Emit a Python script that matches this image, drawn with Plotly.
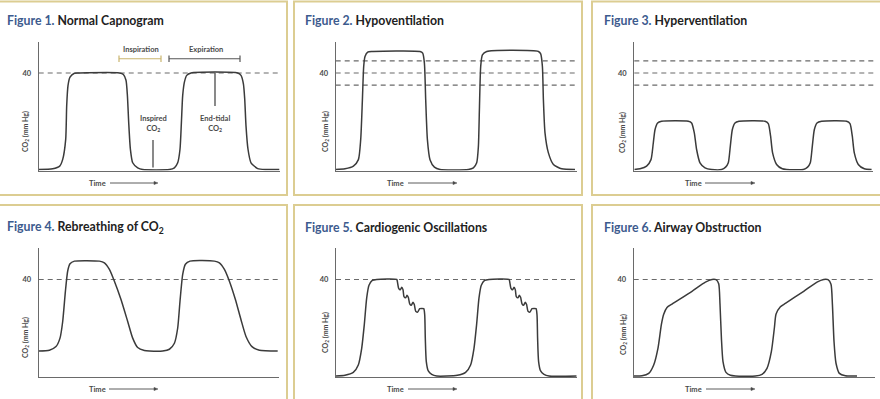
import plotly.graph_objects as go

# ---------------- DATA ----------------
# Time in arbitrary units along each panel's time axis, CO2 in mm Hg
t1 = [0, 14, 21, 24, 27, 28, 29.3, 31.3, 35.7, 40.7, 80.7, 84.7, 87.3, 88.7, 90, 91.7, 94, 99, 104,
      130.7, 135.7, 139, 141.3, 142.7, 144, 145.7, 148, 152.3, 199, 202.3, 204.7, 206, 207.3, 209.3,
      212.3, 219, 227.3, 240.7]
c1 = [0, 0.3, 1.4, 4.2, 12.5, 26.5, 34.8, 38.3, 39.9, 40, 40, 39.4, 37, 30.7, 19.5, 8.4, 2.8, 0.7, 0,
      0, 0.7, 2.8, 8.4, 19.5, 30.7, 36.2, 39, 40, 40, 39, 35.5, 29.3, 18.1, 8.4,
      2.8, 0.4, 0, 0]

t2 = [0, 9.3, 17.7, 22.7, 25, 26.7, 28, 29.3, 32, 36, 84.3, 87, 88.7, 90, 91.7, 94.3, 98.7, 104.3,
      132.7, 137.7, 141, 142.7, 143.7, 145, 146.7, 151, 202.7, 205, 206.7, 207.7, 209.3, 212.7, 217.7,
      226, 239.3]
c2 = [0, 0.3, 1.4, 4.1, 12.4, 28.9, 42.7, 46.8, 48.6, 48.9, 48.9, 48.2, 44.1, 28.9, 12.4, 4.1, 1, 0,
      0, 0.7, 2.8, 9.6, 24.8, 42.7, 47.5, 48.9, 48.9, 47.9, 42.7, 28.9, 15.2, 6.9, 2.1,
      0.3, 0]

t3 = [0, 5.7, 12.3, 16.7, 19, 20.7, 23.3, 27.3, 54, 57.3, 60, 62.3, 65.7, 70.7, 77.3,
      87.3, 91.3, 94, 96, 98, 100.7, 104.7, 130.7, 134, 136.3, 138.3, 142.3, 148, 152.3,
      169, 173.3, 176, 178, 180, 182.7, 187.3, 212.3, 215.7, 218, 220, 224, 230, 237.3]
c3 = [0, 0.3, 1.4, 4.1, 11, 16.5, 19.3, 20, 20, 19.3, 15.2, 8.3, 2.8, 0.7, 0,
      0, 1, 2.8, 9.6, 16.5, 19.3, 20, 20, 19, 13.8, 6.9, 2.1, 0.3, 0,
      0, 1, 2.8, 9.6, 16.5, 19.3, 20, 20, 19, 13.8, 6.9, 2.1, 0.3, 0]

t4 = [0, 10.7, 17.3, 21.3, 24, 26.7, 29, 31.3, 35.7, 60.7, 65.7, 70.7, 75.7, 82.3, 89, 94, 99, 105.7,
      110.7, 124, 130.7, 135.7, 139, 141.3, 144, 146.7, 151.3, 175.7, 180.7, 185.7, 190.7, 196.7,
      202.3, 207.3, 213.3, 220.7, 239]
c4 = [10.4, 10.7, 12.2, 15.7, 22.6, 35.1, 43.5, 46.5, 47.6, 47.6, 46.9, 44.2, 39.3, 31.7, 22.6, 15.7,
      11.8, 10.6, 10.4, 10.4, 11.1, 13.6, 19.9, 31, 42.1, 46.3, 47.6, 47.6, 46.9, 44.2, 39.3, 31.7,
      23.3, 16.4, 12.2, 10.7, 10.4]

t5 = [0, 9, 17.3, 22.3, 25.7, 28.3, 30.7, 33, 36.3, 40.7, 60.7, 61.3, 62.7, 64.3, 65.7, 67, 68, 69.7,
      71, 72.3, 73.7, 75.3, 77, 78.3, 79.7, 81.7, 83.7, 87.7, 88.7, 89.3, 90.3, 92.3, 95.7, 100.7,
      121.3, 129.6, 134.6, 138, 140.6, 143, 145.3, 148.6, 153, 173, 173.6, 175, 176.6, 178, 179.3,
      180.3, 182, 183.3, 184.6, 186, 187.6, 189.3, 190.6, 192, 194, 196, 200, 201, 201.6, 202.6,
      204.6, 208, 213, 240.7]
c5 = [0, 0.3, 1.5, 4.6, 11.5, 21.3, 32.4, 37.6, 39.6, 40, 40, 39.3, 36.3, 35.7, 36.8, 35.8, 32.9, 32.4,
      33.5, 32.6, 29.9, 29.3, 30.6, 29.6, 26.8, 26.5, 27.9, 27.9, 25.4, 15.7, 6, 2.1, 0.7, 0,
      0.3, 1.5, 4.6, 11.5, 21.3, 32.4, 37.6, 39.6, 40, 40, 39.3, 36.3, 35.7, 36.8, 35.8,
      32.9, 32.4, 33.5, 32.6, 29.9, 29.3, 30.6, 29.6, 26.8, 26.5, 27.9, 27.9, 25.4, 15.7, 6,
      2.1, 0.7, 0, 0]

t6 = [0, 8.3, 15, 20, 24.3, 27.7, 30, 33.3, 38.3, 58.3, 71.7, 78.3, 82.3, 85, 86.3, 87.7, 89.3, 92.3,
      96.7, 101.7, 121.7, 128.3, 133.3, 137.7, 140.7, 142.3, 146.7, 151.7, 170, 183.3, 190, 194.3,
      197.3, 198.7, 200.3, 202.3, 205.7, 211.7, 223.3]
c6 = [0, 0.1, 1.1, 4.6, 11.6, 21.4, 25.6, 28.4, 29.8, 35.1, 38.9, 40, 39.9, 38.2, 29.8, 15.8, 6, 1.5,
      0.3, 0, 0, 0.7, 3.2, 10.2, 20, 25.6, 28.7, 30.1, 35.1, 38.9, 40, 39.9,
      38, 29.8, 14.4, 5.3, 1.1, 0.1, 0]

titles_num = ["Figure 1.", "Figure 2.", "Figure 3.", "Figure 4.", "Figure 5.", "Figure 6."]
titles_txt = ["Normal Capnogram", "Hypoventilation", "Hyperventilation",
              "Rebreathing of CO<sub>2</sub>", "Cardiogenic Oscillations", "Airway Obstruction"]
reference_lines = [[40], [35, 40, 45], [35, 40, 45], [40], [40], [40]]
tick_vals = [40]
tick_text = ["40"]
y_title = "CO<sub>2</sub> (mm Hg)"
x_title = "Time"
y_range = [-0.4, 53]

series = [(t1, c1), (t2, c2), (t3, c3), (t4, c4), (t5, c5), (t6, c6)]

# ---------------- LAYOUT (pixel geometry) ----------------
W, H = 880, 399
def fx(px): return px / W
def fy(py): return 1 - py / H

# plot areas: (left, right, top, bottom) in px
areas = [
    (38.7, 279.7, 41.6, 170.5),
    (335.7, 576.7, 41.6, 170.5),
    (634.3, 873.3, 41.6, 170.5),
    (38.7, 279.4, 248.1, 377.0),
    (336.0, 576.7, 248.1, 377.0),
    (633.7, 875.0, 248.1, 377.0),
]
boxes = [(-3, 287, 1.5, 195), (294, 582, 1.5, 195), (592, 884, 1.5, 195),
         (-3, 287, 205, 403), (294, 582, 205, 403), (592, 884, 205, 403)]
title_pos = [(5, 20), (303, 20), (602, 20), (5, 227), (303, 227), (602, 227)]
ytitle_pos = [(25, 132), (325, 132), (623, 133), (25, 338), (325, 333), (623, 335)]
time_pos = [(87, 110, 158, 183), (385, 408, 457, 183), (683, 705, 755, 183),
            (87, 109, 158, 389), (385, 408, 457, 389), (683, 706, 755, 389)]

FONT = "Lato, 'Open Sans', Arial, sans-serif"
BLUE = "#3d5b8e"
DARK = "#222222"
GREY = "#4a4a4a"
CURVE = "#3b3b3b"
AXIS = "#6a6a6a"
GOLD_BORDER = "#dccd92"

fig = go.Figure()
shapes = []
annotations = []

for i, ((t, c), (l, r, top, bot)) in enumerate(zip(series, areas)):
    k = "" if i == 0 else str(i + 1)
    xa, ya = "x" + k, "y" + k
    fig.add_trace(go.Scatter(x=t, y=c, mode="lines", xaxis=xa, yaxis=ya,
                             line=dict(color=CURVE, width=1.5, shape="spline", smoothing=0.6),
                             hoverinfo="skip", showlegend=False))
    fig.layout["xaxis" + k] = dict(domain=[fx(l), fx(r)], range=[0, r - l], anchor=ya,
                                   showline=True, linecolor=AXIS, linewidth=1.2,
                                   showgrid=False, zeroline=False, showticklabels=False,
                                   ticks="", fixedrange=True)
    fig.layout["yaxis" + k] = dict(domain=[fy(bot), fy(top)], range=y_range, anchor=xa,
                                   showline=True, linecolor=AXIS, linewidth=1.2,
                                   showgrid=False, zeroline=False, ticks="",
                                   tickvals=tick_vals, ticktext=tick_text,
                                   tickfont=dict(family=FONT, size=7.5, color=GREY, weight="bold"),
                                   ticklabelstandoff=5, fixedrange=True)
    for v in reference_lines[i]:
        shapes.append(dict(type="line", xref=xa + " domain", yref=ya, x0=0, x1=1, y0=v, y1=v,
                           line=dict(color=AXIS, width=1.2, dash="5px,4px"), layer="below"))
    # border box
    bx0, bx1, by0, by1 = boxes[i]
    shapes.append(dict(type="rect", xref="paper", yref="paper", x0=fx(bx0), x1=fx(bx1),
                       y0=fy(by1), y1=fy(by0), line=dict(color=GOLD_BORDER, width=2)))
    # title
    tx, ty = title_pos[i]
    annotations.append(dict(xref="paper", yref="paper", x=fx(tx), y=fy(ty), xanchor="left",
                            yanchor="middle", showarrow=False,
                            text=f"<b><span style='color:{BLUE}'>{titles_num[i]}</span> {titles_txt[i]}</b>",
                            font=dict(family=FONT, size=12.3, color=DARK)))
    # y title
    yx, yy = ytitle_pos[i]
    annotations.append(dict(xref="paper", yref="paper", x=fx(yx), y=fy(yy), textangle=-90,
                            xanchor="center", yanchor="middle", showarrow=False,
                            text=f"<b>{y_title}</b>", font=dict(family=FONT, size=7, color=GREY)))
    # time label + arrow (line + small head)
    lx, ax0, ax1, ly = time_pos[i]
    annotations.append(dict(xref="paper", yref="paper", x=fx(lx), y=fy(ly), xanchor="left",
                            yanchor="middle", showarrow=False, text=f"<b>{x_title}</b>",
                            font=dict(family=FONT, size=7.5, color=GREY)))
    shapes.append(dict(type="line", xref="paper", yref="paper", x0=fx(ax0), x1=fx(ax1 - 2),
                       y0=fy(ly), y1=fy(ly), line=dict(color=GREY, width=0.9)))
    shapes.append(dict(type="path", xref="paper", yref="paper",
                       path=f"M {fx(ax1)} {fy(ly)} L {fx(ax1 - 4)} {fy(ly - 1.6)} L {fx(ax1 - 4)} {fy(ly + 1.6)} Z",
                       fillcolor=GREY, line=dict(color=GREY, width=0.5)))

# Figure 1 annotations (in data coordinates of panel 1)
insp_x = [80.3, 122.3]
exp_x = [130.3, 201.3]
bracket_y = 45.9
for (xa0, xa1), col in [(insp_x, "#c9b46e"), (exp_x, "#555555")]:
    shapes.append(dict(type="line", xref="x", yref="y", x0=xa0, x1=xa1, y0=bracket_y, y1=bracket_y,
                       line=dict(color=col, width=1.2)))
    for xe in (xa0, xa1):
        shapes.append(dict(type="line", xref="x", yref="y", x0=xe, x1=xe, y0=bracket_y - 1.3,
                           y1=bracket_y + 1.3, line=dict(color=col, width=1.2)))
annotations.append(dict(xref="x", yref="y", x=102.3, y=49.8, text="<b>Inspiration</b>", showarrow=False,
                        font=dict(family=FONT, size=7.5, color=GREY)))
annotations.append(dict(xref="x", yref="y", x=167.3, y=49.8, text="<b>Expiration</b>", showarrow=False,
                        font=dict(family=FONT, size=7.5, color=GREY)))
annotations.append(dict(xref="x", yref="y", x=114.3, y=19.0, text="<b>Inspired<br>CO<sub>2</sub></b>",
                        showarrow=False, font=dict(family=FONT, size=7.5, color=GREY)))
annotations.append(dict(xref="x", yref="y", x=175.8, y=19.0, text="<b>End-tidal<br>CO<sub>2</sub></b>",
                        showarrow=False, font=dict(family=FONT, size=7.5, color=GREY)))
shapes.append(dict(type="line", xref="x", yref="y", x0=114.3, x1=114.3, y0=0.8, y1=12.2,
                   line=dict(color=CURVE, width=1.2)))
shapes.append(dict(type="line", xref="x", yref="y", x0=176.3, x1=176.3, y0=26.3, y1=40,
                   line=dict(color=CURVE, width=1.2)))

fig.update_layout(width=W, height=H, margin=dict(l=0, r=0, t=0, b=0),
                  paper_bgcolor="white", plot_bgcolor="rgba(0,0,0,0)",
                  shapes=shapes, annotations=annotations, showlegend=False,
                  font=dict(family=FONT))
fig.write_html("out.html", config={"displayModeBar": False},
               post_script="document.body.style.margin='0';document.body.style.padding='0';"
                           "document.body.style.overflow='hidden';")
